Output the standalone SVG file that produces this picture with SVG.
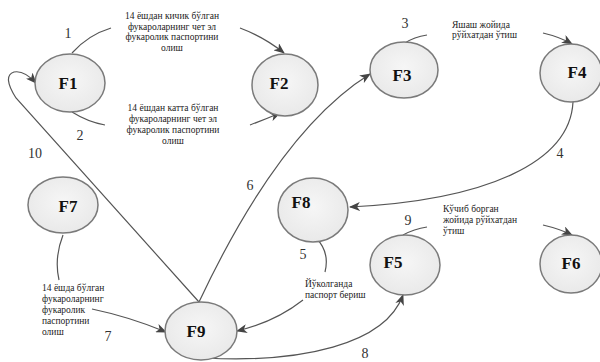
<svg xmlns="http://www.w3.org/2000/svg" width="600" height="362" viewBox="0 0 600 362">
<defs>
<radialGradient id="g" cx="50%" cy="45%" r="60%">
<stop offset="0" stop-color="#f6f6f6"/>
<stop offset="1" stop-color="#e8e8e8"/>
</radialGradient>
<marker id="a" markerWidth="11" markerHeight="9" refX="10" refY="4.5" orient="auto" markerUnits="userSpaceOnUse">
<path d="M0,0 L11,4.5 L0,9 L3,4.5 Z" fill="#444"/>
</marker>
<style>
.n ellipse{fill:url(#g);stroke:#7a7a7a;stroke-width:1.5}
.n text{font-weight:bold;font-size:17px;fill:#111;text-anchor:middle}
.c path{fill:none;stroke:#555;stroke-width:1.2}
.lab{font-size:14px;fill:#333;text-anchor:middle}
.t{font-size:9.5px;fill:#222}
.tc{text-anchor:middle}
</style>
</defs>
<rect width="600" height="362" fill="#fff"/>

<g id="connectors" class="c">
<path d="M72,53 Q88,35 111,28"/>
<path d="M240,28 Q264,37 284,53" marker-end="url(#a)"/>
<path d="M72,112 Q88,122 105,125"/>
<path d="M250,125 Q266,119 280,113" marker-end="url(#a)"/>
<path d="M405,43 Q414,37 427,35"/>
<path d="M543,33 Q560,37 572,44" marker-end="url(#a)"/>
<path d="M573,102 C570,162 488,200 350,207" marker-end="url(#a)"/>
<path d="M316,238 Q330,252 325,272"/>
<path d="M303,300 Q275,322 237,331" marker-end="url(#a)"/>
<path d="M199,302 Q280,130 370,74" marker-end="url(#a)"/>
<path d="M199,302 L16,98 Q2,76 14,72 Q24,70 36,83" marker-end="url(#a)"/>
<path d="M63,235 Q54,258 59,280"/>
<path d="M92,309 Q130,317 166,332" marker-end="url(#a)"/>
<path d="M205,358 C300,363 385,345 403,295" marker-end="url(#a)"/>
<path d="M403,235 Q414,229 427,227"/>
<path d="M543,225 Q560,229 572,235" marker-end="url(#a)"/>
</g>

<g font-family="Liberation Serif, DejaVu Serif, serif">
<g id="F1" class="n"><ellipse cx="70" cy="83" rx="35" ry="29"/><text x="68" y="89">F1</text></g>
<g id="F2" class="n"><ellipse cx="285" cy="85" rx="33" ry="31"/><text x="279" y="89">F2</text></g>
<g id="F3" class="n"><ellipse cx="404" cy="70" rx="34" ry="28"/><text x="402" y="81">F3</text></g>
<g id="F4" class="n"><ellipse cx="571" cy="73" rx="31" ry="29"/><text x="577" y="78">F4</text></g>
<g id="F5" class="n"><ellipse cx="405" cy="265" rx="35" ry="30"/><text x="393" y="268">F5</text></g>
<g id="F6" class="n"><ellipse cx="571" cy="264" rx="31" ry="29"/><text x="571" y="269">F6</text></g>
<g id="F7" class="n"><ellipse cx="63" cy="205" rx="35" ry="28"/><text x="68" y="212">F7</text></g>
<g id="F8" class="n"><ellipse cx="313" cy="210" rx="35" ry="32"/><text x="301" y="208">F8</text></g>
<g id="F9" class="n"><ellipse cx="201" cy="331" rx="36" ry="29"/><text x="196" y="337">F9</text></g>

<g id="labels">
<text class="lab" x="68" y="38">1</text>
<text class="lab" x="80" y="140">2</text>
<text class="lab" x="405" y="28">3</text>
<text class="lab" x="560" y="158">4</text>
<text class="lab" x="303" y="259">5</text>
<text class="lab" x="250" y="190">6</text>
<text class="lab" x="108" y="341">7</text>
<text class="lab" x="365" y="358">8</text>
<text class="lab" x="408" y="225">9</text>
<text class="lab" x="35" y="158">10</text>

<text class="t tc" x="172" y="19">14 ёшдан кичик бўлган</text>
<text class="t tc" x="172" y="30">фукароларнинг чет эл</text>
<text class="t tc" x="172" y="40">фукаролик паспортини</text>
<text class="t tc" x="172" y="51">олиш</text>

<text class="t tc" x="173" y="111">14 ёшдан катта бўлган</text>
<text class="t tc" x="173" y="122">фукароларнинг чет эл</text>
<text class="t tc" x="173" y="133">фукаролик паспортини</text>
<text class="t tc" x="173" y="144">олиш</text>

<text class="t" x="452" y="28">Яшаш жойида</text>
<text class="t" x="452" y="38">рўйхатдан ўтиш</text>

<text class="t" x="443" y="212">Кўчиб борган</text>
<text class="t" x="443" y="223">жойида рўйхатдан</text>
<text class="t" x="443" y="234">ўтиш</text>

<text class="t" x="305" y="287">Йўколганда</text>
<text class="t" x="305" y="298">паспорт бериш</text>

<text class="t" x="42" y="291">14 ёшда бўлган</text>
<text class="t" x="42" y="302">фукароларнинг</text>
<text class="t" x="42" y="313">фукаролик</text>
<text class="t" x="42" y="324">паспортини</text>
<text class="t" x="42" y="335">олиш</text>
</g>
</g>
</svg>
